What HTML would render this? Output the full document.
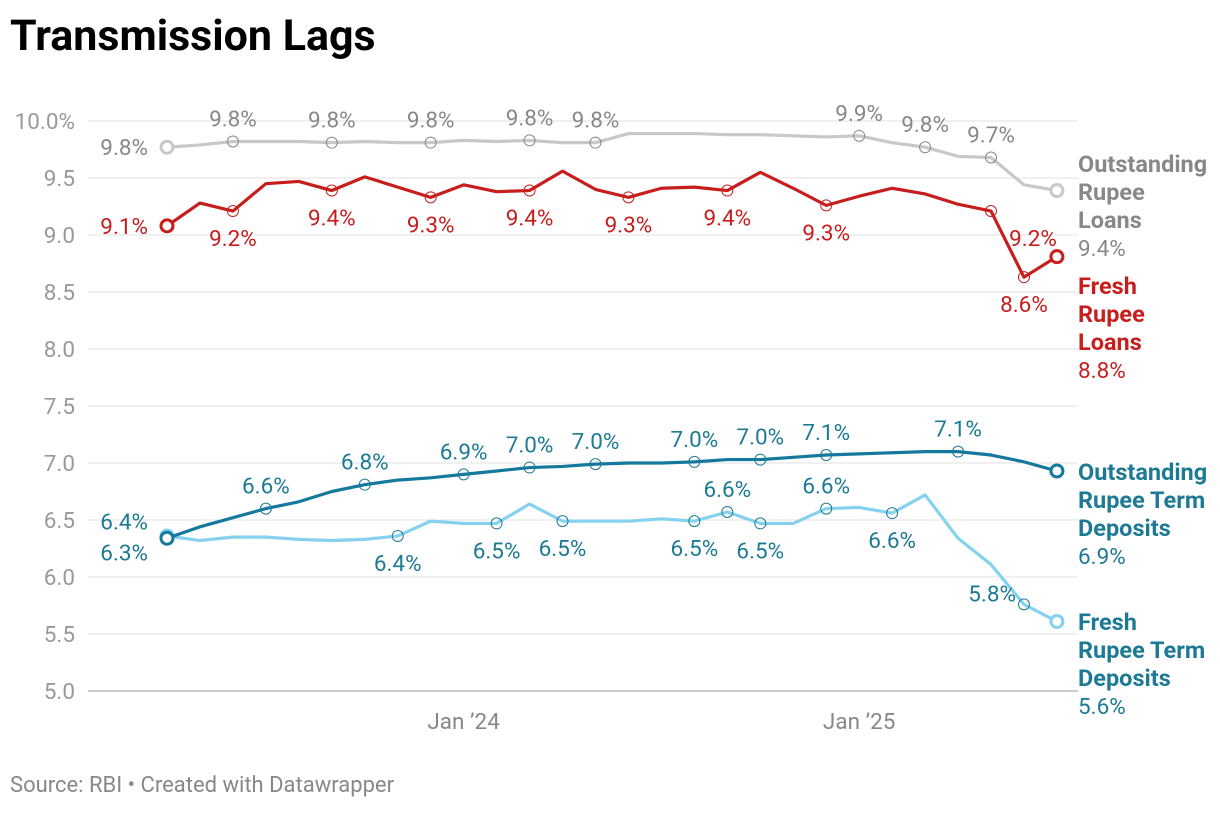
<!DOCTYPE html>
<html><head><meta charset="utf-8"><style>
body{margin:0;background:#fff;font-family:"Liberation Sans",Arial,sans-serif;}
svg text{font-family:"Roboto","Liberation Sans",Arial,sans-serif;}
</style></head><body>
<svg id="c" width="1220" height="808" xmlns="http://www.w3.org/2000/svg">
<text x="10" y="50" font-size="43" font-weight="bold" fill="#000">Transmission Lags</text>
<text x="10" y="792" font-size="22" fill="#888">Source: RBI • Created with Datawrapper</text>
</svg>
<script>
const yTicks=[10.0,9.5,9.0,8.5,8.0,7.5,7.0,6.5,6.0,5.5,5.0];
const xTickLabels=["Jan ’24","Jan ’25"];
const xTickIdx=[9,21];
const outLoans=[9.77,9.79,9.82,9.82,9.82,9.81,9.82,9.81,9.81,9.83,9.82,9.83,9.81,9.81,9.89,9.89,9.89,9.88,9.88,9.87,9.86,9.87,9.81,9.77,9.69,9.68,9.44,9.39];
const freshLoans=[9.08,9.28,9.21,9.45,9.47,9.39,9.51,9.42,9.33,9.44,9.38,9.39,9.56,9.40,9.33,9.41,9.42,9.39,9.55,9.41,9.26,9.34,9.41,9.36,9.27,9.21,8.63,8.81];
const outDep=[6.34,6.44,6.52,6.60,6.66,6.75,6.81,6.85,6.87,6.90,6.93,6.96,6.97,6.99,7.00,7.00,7.01,7.03,7.03,7.05,7.07,7.08,7.09,7.10,7.10,7.07,7.01,6.93];
const freshDep=[6.36,6.32,6.35,6.35,6.33,6.32,6.33,6.36,6.49,6.47,6.47,6.64,6.49,6.49,6.49,6.51,6.49,6.57,6.47,6.47,6.60,6.61,6.56,6.72,6.34,6.11,5.76,5.61];
const NS="http://www.w3.org/2000/svg";
const svg=document.getElementById('c');
const X=i=>167+i*32.96;
const Y=v=>121+(10-v)*114;
const FS=22.5;
function mk(t,a,p){const e=document.createElementNS(NS,t);for(const k in a)e.setAttribute(k,a[k]);(p||svg).appendChild(e);return e;}
yTicks.forEach((v,i)=>{
 const l=mk('line',{x1:88,x2:1078,y1:Y(v),y2:Y(v),stroke:i==yTicks.length-1?'#999':'#e2e2e2','stroke-width':1});
 
 
 const t=mk('text',{x:75,y:Y(v)+8,'text-anchor':'end','font-size':FS,fill:'#999'});
 t.textContent=v.toFixed(1)+(i==0?'%':'');
 
 
});
xTickLabels.forEach((s,i)=>{
 const t=mk('text',{x:X(xTickIdx[i]),y:729,'text-anchor':'middle','font-size':FS,fill:'#888'});
 t.textContent=s;
 
 
});
const series=[
 {d:outLoans,c:'#c8c8c8',lc:'#888',name:'outstanding-loans',lab:[[2,-1],[5,-1],[8,-1],[11,-1],[13,-1],[21,-1],[23,-1],[25,-1]],first:[0]},
 {d:freshLoans,c:'#c71e1d',lc:'#c71e1d',name:'fresh-loans',lab:[[2,1],[5,1],[8,1],[11,1],[14,1],[17,1],[20,1],[25,2],[26,1]],first:[0]},
 {d:freshDep,c:'#86d2ee',lc:'#1d7a94',name:'fresh-deposits',lab:[[7,1],[10,1],[12,1],[16,1],[18,1],[22,1],[17,-1],[20,-1],[26,3]],first:[-1.2]},
 {d:outDep,c:'#15799e',lc:'#1d7a94',name:'outstanding-deposits',lab:[[3,-1],[6,-1],[9,-1],[11,-1],[13,-1],[16,-1],[18,-1],[20,-1],[24,-1]],first:[1.2]},
];
series.forEach(s=>{
 const p=mk('path',{d:s.d.map((v,i)=>(i?'L':'M')+X(i)+','+Y(v)).join(''),fill:'none',stroke:s.c,'stroke-width':3.2,'stroke-linejoin':'round'});
 
 
 s.lab.forEach(([i,pos])=>{
  const c=mk('circle',{cx:X(i),cy:Y(s.d[i]),r:5.5,fill:'none',stroke:s.lc,'stroke-width':1});
  
  
  let tx=X(i),ty=pos<0?Y(s.d[i])-15:Y(s.d[i])+35,anchor='middle';
  if(pos==2){tx=X(i)+42;ty=Y(s.d[i])+35;}
  if(pos==3){tx=X(i)-8;ty=Y(s.d[i])-3;anchor='end';}
  const t=mk('text',{x:tx,y:ty,'text-anchor':anchor,'font-size':FS,fill:s.lc});
  t.textContent=s.d[i].toFixed(1)+'%';
  
  
 });
 [0,s.d.length-1].forEach(i=>{
  const c=mk('circle',{cx:X(i),cy:Y(s.d[i]),r:6,fill:'#fff',stroke:s.c,'stroke-width':3});
  
  
 });
 const t=mk('text',{x:148,y:Y(s.d[0])+8+s.first[0]*12,'text-anchor':'end','font-size':FS,fill:s.lc});
 t.textContent=s.d[0].toFixed(1)+'%';
 
 
});
const ends=[
 {lines:['Outstanding','Rupee','Loans'],c:'#888',v:outLoans,y:172},
 {lines:['Fresh','Rupee','Loans'],c:'#c71e1d',v:freshLoans,y:294},
 {lines:['Outstanding','Rupee Term','Deposits'],c:'#1d7a94',v:outDep,y:480},
 {lines:['Fresh','Rupee Term','Deposits'],c:'#1d7a94',v:freshDep,y:630},
];
ends.forEach(e=>{
 e.lines.forEach((s,k)=>{
  const t=mk('text',{x:1078,y:e.y+k*28,'font-size':23.5,'font-weight':'bold',fill:e.c});
  t.textContent=s;
  
  
 });
 const t=mk('text',{x:1078,y:e.y+3*28,'font-size':FS,fill:e.c});
 t.textContent=e.v[e.v.length-1].toFixed(1)+'%';
 
 
});
</script>
</body></html>
